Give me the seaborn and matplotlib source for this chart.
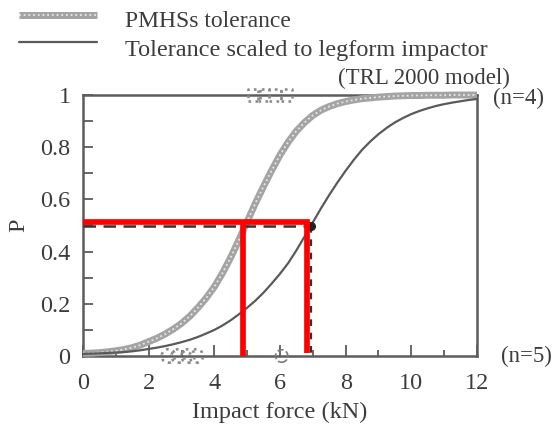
import matplotlib
matplotlib.use("Agg")
import matplotlib.pyplot as plt
from matplotlib.lines import Line2D
from matplotlib.ticker import MultipleLocator, FixedLocator, FixedFormatter
import pandas as pd
import seaborn as sns

# Injury risk curves (probability of injury vs impact force)
force_kN = [0.00, 0.25, 0.50, 0.75, 1.00, 1.25, 1.50, 1.75, 2.00, 2.25, 2.50,
            2.75, 3.00, 3.25, 3.50, 3.75, 4.00, 4.25, 4.50, 4.75, 5.00, 5.25,
            5.50, 5.75, 6.00, 6.25, 6.50, 6.75, 7.00, 7.25, 7.50, 7.75, 8.00,
            8.25, 8.50, 8.75, 9.00, 9.25, 9.50, 9.75, 10.00, 10.25, 10.50,
            10.75, 11.00, 11.25, 11.50, 11.75, 12.00]
pmhs_tolerance = [0.010, 0.011, 0.013, 0.016, 0.020, 0.025, 0.032, 0.042, 0.055,
                  0.068, 0.084, 0.103, 0.125, 0.152, 0.185, 0.222, 0.265, 0.318,
                  0.378, 0.445, 0.515, 0.585, 0.650, 0.712, 0.770, 0.820, 0.862,
                  0.895, 0.922, 0.942, 0.956, 0.967, 0.975, 0.981, 0.986, 0.989,
                  0.992, 0.994, 0.996, 0.997, 0.998, 0.998, 0.999, 0.999, 0.999,
                  1.000, 1.000, 1.000, 1.000]
scaled_tolerance = [0.008, 0.009, 0.010, 0.012, 0.013, 0.015, 0.018, 0.022, 0.027,
                    0.032, 0.038, 0.045, 0.053, 0.062, 0.073, 0.086, 0.100, 0.117,
                    0.137, 0.160, 0.185, 0.212, 0.243, 0.278, 0.315, 0.356, 0.405,
                    0.458, 0.512, 0.566, 0.617, 0.665, 0.710, 0.752, 0.790, 0.822,
                    0.850, 0.874, 0.895, 0.912, 0.927, 0.939, 0.949, 0.958, 0.965,
                    0.971, 0.976, 0.981, 0.985]

# Test outcomes: injured (P = 1) and uninjured (P = 0)
injured_force = [5.2, 5.5, 5.85, 6.2]
uninjured_force = [2.6, 2.9, 3.2, 3.45]
uninjured_other_force = [6.05]

# 50 % reading on the scaled curve, and the highlighted readings
p50_level = 0.5
p50_scaled_force = 6.93
mark_level = 0.513
mark_pmhs_force = 4.86
mark_scaled_force = 6.83
mark_scaled_bottom = 0.012

x_ticks = [0, 2, 4, 6, 8, 10, 12]
x_tick_labels = ["0", "2", "4", "6", "8", "10", "12"]
y_ticks = [0, 0.2, 0.4, 0.6, 0.8, 1.0]
y_tick_labels = ["0", "0.2", "0.4", "0.6", "0.8", "1"]

sns.set_theme(style="ticks")
plt.rcParams["font.family"] = ["Liberation Serif", "DejaVu Serif"]

INK = "#3c3c3c"
FRAME = "#5c5c5c"
HALFTONE = "#a4a4a4"
W, H = 558, 428

curves = pd.DataFrame({"force": force_kN, "pmhs": pmhs_tolerance,
                       "scaled": scaled_tolerance})

fig = plt.figure(figsize=(W / 100, H / 100), dpi=100)
ax = fig.add_axes([83 / W, 1 - 356 / H, (477 - 83) / W, (356 - 95) / H])

# PMHS curve: thick halftone band
sns.lineplot(data=curves, x="force", y="pmhs", ax=ax, color=HALFTONE, lw=5,
             solid_capstyle="butt", zorder=3, clip_on=False)
sns.lineplot(data=curves, x="force", y="pmhs", ax=ax, color="white", lw=1.3,
             ls=(0, (1, 1.6)), alpha=0.75, zorder=3.1, clip_on=False)
# Scaled tolerance curve
sns.lineplot(data=curves, x="force", y="scaled", ax=ax, color="#5a5a5a",
             lw=1.6, zorder=3.2, clip_on=False)

# Test outcomes
sns.scatterplot(x=injured_force, y=[1.0] * len(injured_force), ax=ax,
                marker="s", s=70, facecolor="none", edgecolor="#8c8c8c",
                linewidth=1.9, linestyle=":", zorder=4, clip_on=False)
sns.scatterplot(x=uninjured_force, y=[0.0] * len(uninjured_force), ax=ax,
                marker="o", s=95, facecolor="none", edgecolor="#8c8c8c",
                linewidth=1.9, linestyle=":", zorder=4, clip_on=False)
sns.scatterplot(x=uninjured_other_force, y=[0.0], ax=ax,
                marker="o", s=80, facecolor="none", edgecolor="#7a7a7a",
                linewidth=1.2, linestyle="--", zorder=4, clip_on=False)

# Dashed 50 % construction lines and point
ax.plot([0, p50_scaled_force], [p50_level, p50_level], color="#333333",
        lw=1.8, dashes=(5, 3), zorder=5)
ax.plot([p50_scaled_force, p50_scaled_force], [p50_level, 0], color="#333333",
        lw=1.6, dashes=(3, 3), zorder=5)
ax.plot([p50_scaled_force], [p50_level], marker="o", ms=5.5, color="#222222",
        zorder=5)

# Highlighted readings in red
ax.plot([0, mark_scaled_force], [mark_level, mark_level], color="#ff0000",
        lw=4.1, solid_capstyle="projecting", zorder=6)
ax.plot([mark_pmhs_force, mark_pmhs_force], [mark_level, 0], color="#ff0000",
        lw=4.1, solid_capstyle="butt", zorder=6)
ax.plot([mark_scaled_force, mark_scaled_force], [mark_level, mark_scaled_bottom],
        color="#ff0000", lw=4.1, solid_capstyle="butt", zorder=6)

ax.set_xlim(0, 12)
ax.set_ylim(0, 1)
ax.xaxis.set_major_locator(FixedLocator(x_ticks))
ax.xaxis.set_major_formatter(FixedFormatter(x_tick_labels))
ax.xaxis.set_minor_locator(MultipleLocator(1))
ax.yaxis.set_major_locator(FixedLocator(y_ticks))
ax.yaxis.set_major_formatter(FixedFormatter(y_tick_labels))
ax.yaxis.set_minor_locator(MultipleLocator(0.1))

ax.tick_params(which="both", direction="in", color=FRAME, width=1.3,
               labelcolor=INK, labelsize=17.5, bottom=True, left=True,
               top=False, right=False)
ax.tick_params(axis="x", which="major", length=8, pad=12)
ax.tick_params(axis="x", which="minor", length=4)
ax.tick_params(axis="y", which="both", length=7, pad=9)
for side in ax.spines.values():
    side.set_color(FRAME)
    side.set_linewidth(1.8)
    side.set_visible(True)

ax.set_xlabel("Impact force (kN)", fontsize=17.5, color=INK, labelpad=6)
ax.set_ylabel("P", fontsize=17.5, color=INK, labelpad=8)

ax.text(1.04, 0.985, "(n=4)", transform=ax.transAxes, ha="left", va="center",
        fontsize=16.5, color=INK)
ax.text(1.06, 0.0, "(n=5)", transform=ax.transAxes, ha="left", va="center",
        fontsize=16.5, color=INK)

# Key at the top of the figure
def fx(px):
    return px / W

def fy(py):
    return 1 - py / H

fig.add_artist(Line2D([fx(19), fx(97)], [fy(15), fy(15)], transform=fig.transFigure,
                      color=HALFTONE, lw=5, solid_capstyle="butt"))
fig.add_artist(Line2D([fx(19), fx(97)], [fy(15), fy(15)], transform=fig.transFigure,
                      color="white", lw=1.3, ls=(0, (1, 1.6)), alpha=0.75))
fig.add_artist(Line2D([fx(19), fx(97)], [fy(42), fy(42)], transform=fig.transFigure,
                      color="#5a5a5a", lw=1.6))
fig.text(fx(125), fy(27), "PMHSs tolerance", ha="left", va="baseline",
         fontsize=17, color=INK)
fig.text(fx(125), fy(56), "Tolerance scaled to legform impactor", ha="left",
         va="baseline", fontsize=17.5, color=INK)
fig.text(fx(510), fy(84), "(TRL 2000 model)", ha="right", va="baseline",
         fontsize=16.5, color=INK)

fig.savefig("out.png", dpi=100, facecolor="white")
